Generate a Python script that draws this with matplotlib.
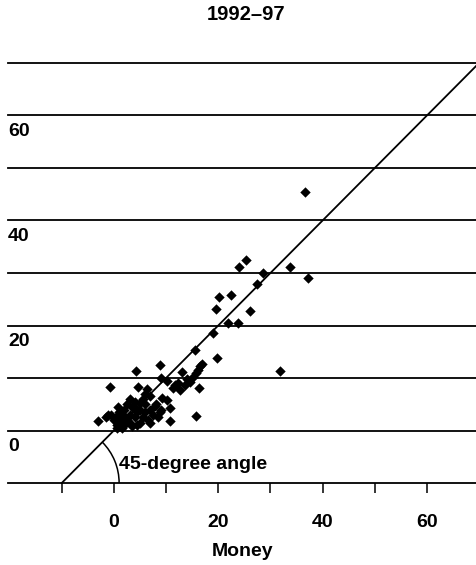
import matplotlib
matplotlib.use("Agg")
import matplotlib.pyplot as plt
from matplotlib.patches import Arc
import matplotlib.transforms as mtransforms

plt.rcParams['font.family'] = ['Liberation Sans', 'DejaVu Sans']

title = "1992\u201397"
xlabel = "Money"
annot = "45-degree angle"

money = [36.7, 33.7, 37.2, 28.6, 27.5, 25.3, 24.0, 20.2, 22.5, 19.5, 26.1, 21.9, 23.7,
         18.9, 15.5, 19.8, 16.5, 15.8, 31.8, 15.2,
         16.8, 16.1, 14.6, 13.0, 16.3, 15.7, 8.8, 4.2, -0.8, 4.7, 6.3, 9.1, 10.1, 11.4,
         12.6, 13.6, 9.3, 10.1, 10.7, 10.7, 8.8, 7.9, 0.8, -1.1, -3.0, 0.5,
         -1.5, -0.5, 0.0, 0.5, 1.0, 1.0, 1.5, 2.0, 2.0, 2.5, 3.0, 3.0, 3.5, 4.0, 4.0,
         4.5, 5.0, 5.0, 5.5, 5.5, 6.0, 6.0, 6.5, 7.0, 7.0, 7.5, 8.0, 8.5, 9.0, 2.5,
         1.5, 0.5, 3.0, 4.5, 6.0, 7.0, 3.5, 2.0, 4.0, 5.0, 11.8, 12.2, 14.0]
prices = [45.5, 31.2, 29.1, 30.0, 27.9, 32.5, 31.2, 25.5, 25.8, 23.2, 22.8, 20.4, 20.4,
          18.5, 15.4, 13.8, 12.2, 10.9, 11.4, 10.1,
          12.6, 11.6, 9.3, 11.1, 8.1, 2.7, 12.5, 11.4, 8.2, 8.2, 7.9, 10.0, 9.5, 8.1,
          7.8, 8.7, 6.2, 5.8, 4.2, 1.8, 3.6, 4.6, 4.4, 3.0, 1.8, 0.4,
          2.5, 3.0, 2.0, 1.0, 1.5, 3.5, 2.5, 1.0, 4.0, 2.0, 3.0, 1.5, 4.5, 2.5, 5.5,
          3.5, 1.5, 4.0, 2.5, 6.0, 3.5, 5.0, 2.0, 4.0, 6.5, 3.0, 5.0, 2.5, 4.0, 5.0,
          0.5, 2.8, 6.0, 1.0, 7.0, 1.5, 0.8, 2.8, 4.2, 5.2, 8.6, 9.0, 9.8]

grid_levels = [-10, 0, 10, 20, 30, 40, 50, 60, 70]
ytick_labels = [0, 20, 40, 60]
xtick_marks = [-10, 0, 10, 20, 30, 40, 50, 60]
xtick_labels = [0, 20, 40, 60]
line_ends = [-10, 70]

fig = plt.figure(figsize=(4.77, 5.65), dpi=100)
ax = fig.add_axes([8/477, 1-483/565, 1-8/477, (483-63)/565])
ax.set_xlim(-20.3, 69.6)
ax.set_ylim(-10, 70)

for g in grid_levels:
    ax.axhline(g, color='black', lw=1.3, zorder=1, clip_on=False)

ax.plot(line_ends, line_ends, color='black', lw=1.3, zorder=2, clip_on=False)
ax.scatter(money, prices, marker='D', s=28, color='black', zorder=3, linewidths=0)

arc = Arc((-10, -10), 22, 22, theta1=0, theta2=45, color='black', lw=1.1, zorder=2)
ax.add_patch(arc)
ax.text(1.0, -6.4, annot, fontsize=14, fontweight='bold', ha='left', va='center')

trans = mtransforms.blended_transform_factory(ax.transAxes, ax.transData)
for v in ytick_labels:
    ax.text(0.0, v - 1.4, str(v), transform=trans, fontsize=14, fontweight='bold',
            ha='left', va='top')

for s in ax.spines.values():
    s.set_visible(False)
ax.set_yticks([])
ax.set_xticks(xtick_marks)
ax.set_xticklabels([str(v) if v in xtick_labels else "" for v in xtick_marks],
                   fontsize=14, fontweight='bold')
ax.tick_params(axis='x', direction='out', length=7, width=1.1, pad=15)
ax.set_xlabel(xlabel, fontsize=14, fontweight='bold', labelpad=9)

fig.text(246/477, 1 - 15/565, title, fontsize=14.5, fontweight='bold',
         ha='center', va='center')

fig.savefig("out.png", dpi=100)
